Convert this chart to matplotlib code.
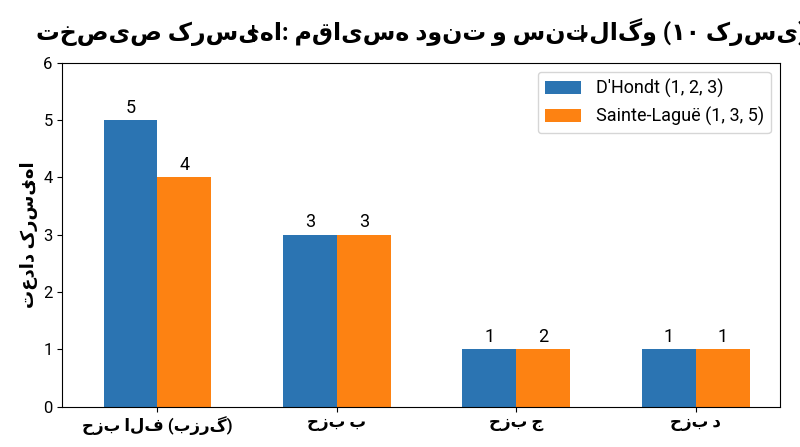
import matplotlib.pyplot as plt
import numpy as np

plt.rcParams['font.family'] = ['Roboto', 'DejaVu Sans']

parties = ["حزب الف (بزرگ)", "حزب ب", "حزب ج", "حزب د"]
dhondt = [5, 3, 1, 1]
sainte = [4, 3, 1, 1]
dhondt_labels = ["5", "3", "1", "1"]
sainte_labels = ["4", "3", "2", "1"]

x = np.arange(len(parties))
w = 0.3
fig, ax = plt.subplots(figsize=(8, 4.47), dpi=100)
b1 = ax.bar(x - w / 2, dhondt, w, color="#2b74b2", label="D'Hondt (1, 2, 3)")
b2 = ax.bar(x + w / 2, sainte, w, color="#fd8212", label="Sainte-Laguë (1, 3, 5)")
for bars, labels in ((b1, dhondt_labels), (b2, sainte_labels)):
    for r, lab in zip(bars, labels):
        ax.text(r.get_x() + r.get_width() / 2, r.get_height() + 0.06, lab,
                ha="center", va="bottom", fontsize=13)
ax.set_xticks(x)
ax.set_xticklabels(parties, fontsize=12, fontweight="bold")
ax.set_xlim(-0.53, 3.47)
ax.set_ylim(0, 6)
ax.tick_params(axis="y", labelsize=12)
ax.set_ylabel("تعداد کرسی‌ها", fontsize=13, fontweight="bold")
ax.set_title("تخصیص کرسی‌ها: مقایسه دونت و سنت‌لاگو (۱۰ کرسی)", fontsize=17, fontweight="bold", pad=16)
ax.legend(fontsize=13, loc="upper right")
fig.subplots_adjust(left=0.078, right=0.975, top=0.86, bottom=0.09)
fig.savefig("out.png")
